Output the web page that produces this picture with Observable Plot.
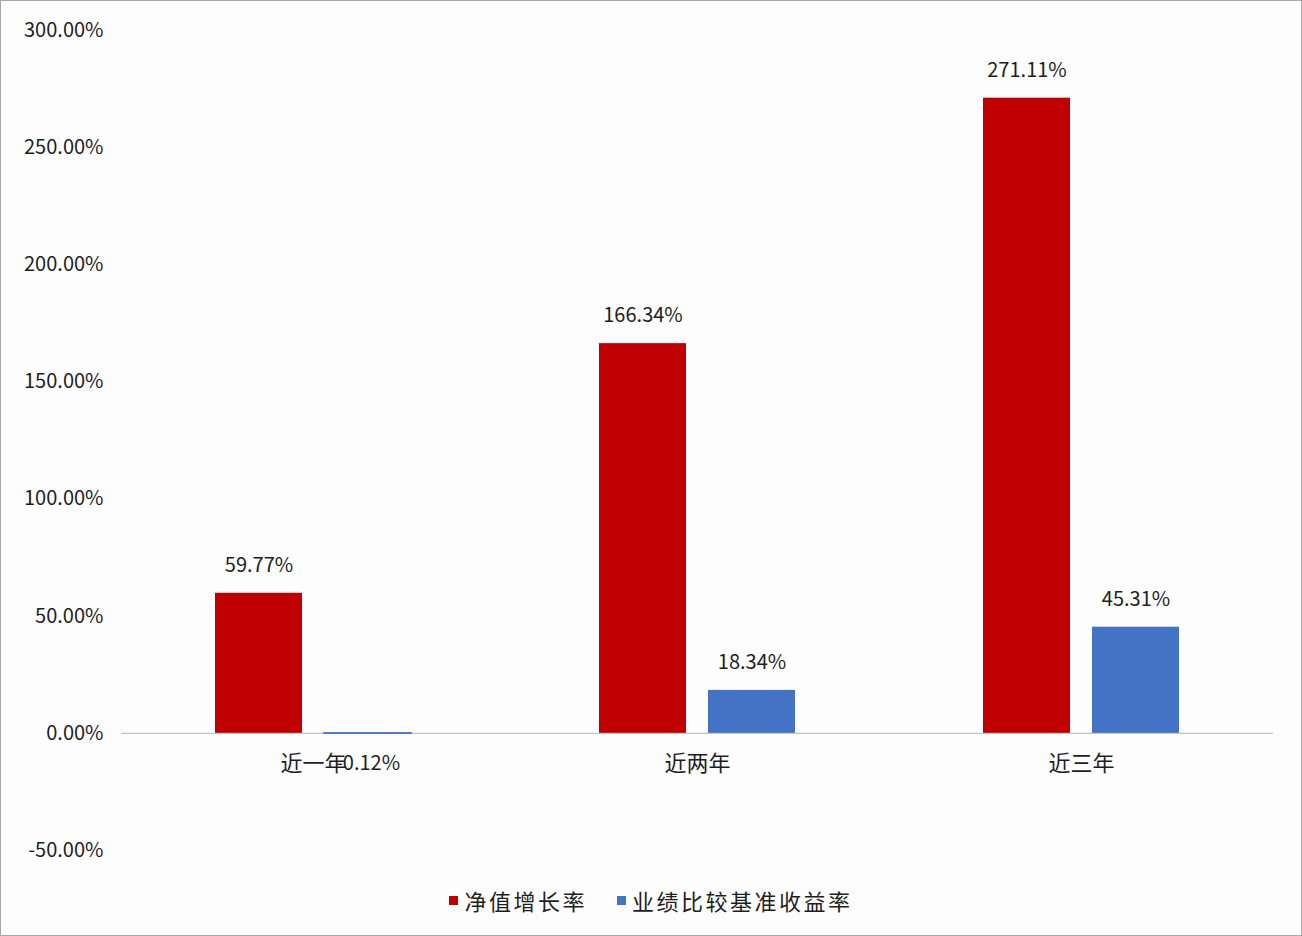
<!DOCTYPE html>
<html>
<head>
<meta charset="utf-8">
<script src="https://cdn.jsdelivr.net/npm/d3@7"></script>
<script src="https://cdn.jsdelivr.net/npm/@observablehq/plot@0.6"></script>
<style>
  html, body { margin: 0; padding: 0; background: #fdfdfe; }
  #frame { position: fixed; left: 0; top: 0; width: 1302px; height: 936px; box-sizing: border-box; border: 1px solid #a9a9a9; pointer-events: none; }
  #chart svg { display: block; }
  #legend { height: 66px; display: flex; justify-content: center; align-items: flex-start; gap: 30px; font-family: "Noto Sans CJK SC", sans-serif; font-size: 22px; color: #1e1e1e; box-sizing: border-box; padding-top: 14px; }
  .item { display: flex; align-items: center; gap: 6px; letter-spacing: 2.5px; }
  .sw { width: 9px; height: 9px; display: inline-block; }
</style>
</head>
<body>
<div id="chart"></div>
<div id="legend"></div>
<div id="frame"></div>
<script>
const categories = ["近一年", "近两年", "近三年"];
const seriesNames = ["净值增长率", "业绩比较基准收益率"];
const netValueGrowth = [59.77, 166.34, 271.11];
const benchmarkReturn = [-0.12, 18.34, 45.31];
const yTicks = [-50, 0, 50, 100, 150, 200, 250, 300];
const colors = ["#C00000", "#4472C4"];

const rows = [];
categories.forEach((c, i) => {
  rows.push({cat: c, series: seriesNames[0], value: netValueGrowth[i]});
  rows.push({cat: c, series: seriesNames[1], value: benchmarkReturn[i]});
});
const fmt = v => v.toFixed(2) + "%";
const font = "'Noto Sans CJK SC', sans-serif";

const plot = Plot.plot({
  width: 1302,
  height: 870,
  marginLeft: 120,
  marginRight: 28,
  marginTop: 30,
  marginBottom: 20,
  style: {fontFamily: font, background: "transparent", color: "#1e1e1e"},
  fx: {domain: categories, padding: 0, axis: null},
  x: {domain: seriesNames, paddingInner: 0.205, paddingOuter: 0.85, axis: null},
  y: {domain: [-50, 300], axis: null},
  color: {domain: seriesNames, range: colors},
  marks: [
    Plot.axisY({ticks: yTicks, tickFormat: fmt, tickSize: 0, tickPadding: 18, fontSize: 20, label: null, fill: "#1e1e1e"}),
    Plot.ruleY([0], {stroke: "#c4c4c4", strokeWidth: 1.2}),
    Plot.barY(rows.filter(d => d.value >= 0), {fx: "cat", x: "series", y: "value", fill: "series"}),
    Plot.barY(rows.filter(d => d.value < 0), {fx: "cat", x: "series", y: "value", fill: "series", stroke: "series", strokeWidth: 1.5}),
    Plot.text(rows.filter(d => d.value >= 0), {fx: "cat", x: "series", y: "value", text: d => fmt(d.value), dy: -28, fontSize: 20, fill: "#1e1e1e"}),
    Plot.text(rows.filter(d => d.value < 0), {fx: "cat", x: "series", y: "value", text: d => fmt(d.value), dy: 30, fontSize: 20, fill: "#1e1e1e"}),
    Plot.text(categories, {fx: d => d, y: 0, text: d => d, dy: 31, fontSize: 22, fill: "#1e1e1e"})
  ]
});
document.getElementById("chart").appendChild(plot);

const legend = document.getElementById("legend");
seriesNames.forEach((s, i) => {
  const item = document.createElement("div");
  item.className = "item";
  const sw = document.createElement("span");
  sw.className = "sw";
  sw.style.background = colors[i];
  const t = document.createElement("span");
  t.textContent = s;
  item.appendChild(sw);
  item.appendChild(t);
  legend.appendChild(item);
});
</script>
</body>
</html>
